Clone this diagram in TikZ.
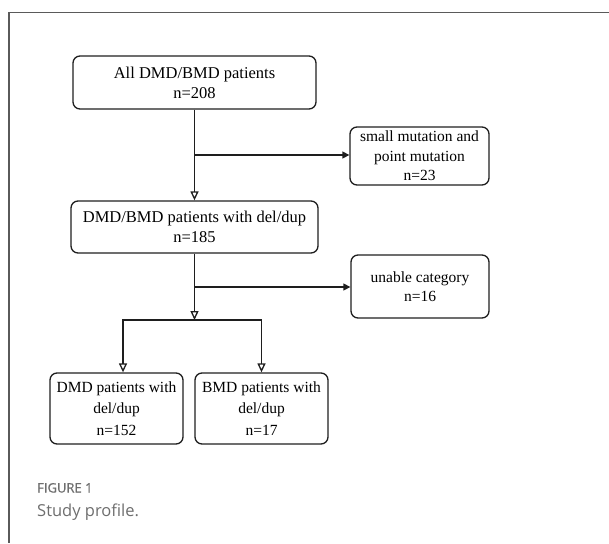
\documentclass[tikz,border=0pt]{standalone}
\usepackage{fontspec}
\setmainfont{Liberation Serif}
\newfontfamily\capfont{Open Sans}
\newfontfamily\capboldfont[FakeBold=0.8]{Open Sans}
\usepackage{xcolor}
\usetikzlibrary{arrows.meta}
\definecolor{framegray}{HTML}{5A5A5A}
\definecolor{capgray}{HTML}{6E6E6E}
\definecolor{boxline}{HTML}{1E1E1E}

\begin{document}
\begin{tikzpicture}[x=1pt, y=-1pt,
        box/.style={draw=boxline, rounded corners=7pt, line width=1.3pt, align=center, inner sep=0pt, font=\fontsize{16.5}{20}\selectfont},
        sidebox/.style={box, font=\fontsize{15.5}{19.5}\selectfont},
        lowbox/.style={box, minimum width=133pt, minimum height=71pt, font=\fontsize{15.5}{21.5}\selectfont},
        openarrow/.style={draw=boxline, line width=1.3pt, -{Triangle[open, length=9pt, width=8pt]}},
        fillarrow/.style={draw=boxline, line width=1.3pt, -{Triangle[length=7pt, width=7pt]}},
        caption/.style={anchor=base west, inner sep=0pt, text=capgray}]
        \useasboundingbox (0,0) rectangle (609,543);
        %FRAME
        \draw[framegray, line width=1.5pt] (609,12.5) -- (9,12.5) -- (9,543);
        %BOXES
        \node[box, minimum width=243pt, minimum height=53pt] (all) at (194.5,82.5) {All DMD/BMD patients\\n=208};
        \node[sidebox, minimum width=139pt, minimum height=58pt] (mut) at (419.5,156) {small mutation and\\point mutation\\n=23};
        \node[box, minimum width=247pt, minimum height=52pt] (deldup) at (194.5,227) {DMD/BMD patients with del/dup\\n=185};
        \node[sidebox, minimum width=138pt, minimum height=63pt] (unable) at (420,286.5) {unable category\\n=16};
        \node[lowbox] (dmd) at (116.5,408.5) {DMD patients with\\del/dup\\n=152};
        \node[lowbox] (bmd) at (261.5,408.5) {BMD patients with\\del/dup\\n=17};
        %JUNCTIONS
        \coordinate (b1) at (194.5,155);
        \coordinate (b2) at (194.5,287);
        \coordinate (split) at (194.5,320);
        \coordinate (dl) at (123,320);
        %ARROWS
        \draw[openarrow] (all.south) -- (deldup.north);
        \draw[fillarrow] (b1) -- (b1 -| mut.west);
        \draw[openarrow] (deldup.south) -- (split);
        \draw[fillarrow] (b2) -- (b2 -| unable.west);
        \draw[openarrow] (split) -| (dl |- dmd.north);
        \draw[openarrow] (split) -| (bmd.north);
        %CAPTION
        \node[caption, font=\capboldfont\fontsize{13}{15}\selectfont] (fig) at (37,492.5) {FIGURE 1};
        \node[caption, font=\capfont\fontsize{16.5}{20}\selectfont] (cap) at (37,516) {Study profile.};
\end{tikzpicture}
\end{document}
